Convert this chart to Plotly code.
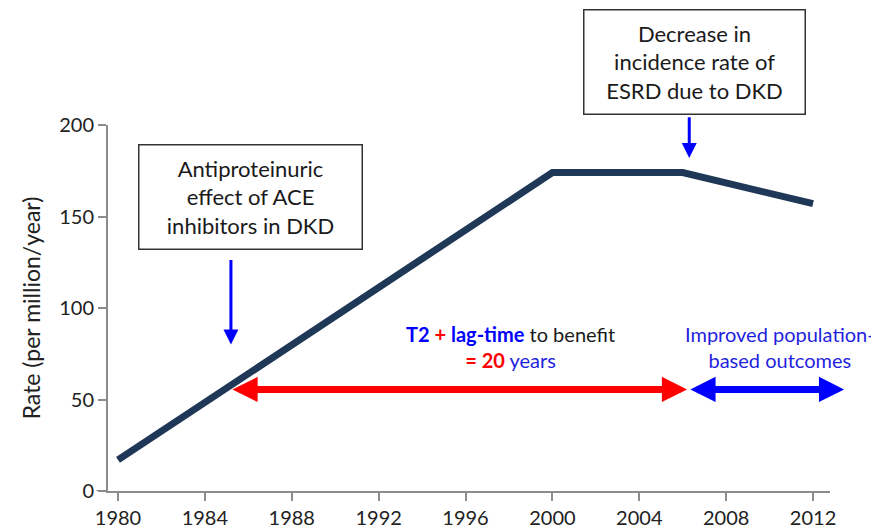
import plotly.graph_objects as go

# Data
years = [1980, 2000, 2006, 2012]
rate = [17, 174, 174, 157]
x_ticks = [1980, 1984, 1988, 1992, 1996, 2000, 2004, 2008, 2012]
y_ticks = [0, 50, 100, 150, 200]

# Event years / levels
ace_year = 1985.2
decrease_year = 2006.3
arrow_level = 55.5
outcome_end_year = 2013.5

FONT = "Lato"
BLUE = "#0000ff"
TEXT_BLUE = "#1f1fe0"
RED = "#ff0000"

fig = go.Figure()
fig.add_trace(go.Scatter(x=years, y=rate, mode="lines",
                         line=dict(color="#1f3857", width=7),
                         hoverinfo="skip", showlegend=False))

xr = [1979.54, 2012.78]
# the page has an 8px body margin, so the figure is 8px smaller and margins compensate
fig.update_layout(
    width=871, height=524,
    margin=dict(l=100, r=49, t=117, b=41),
    paper_bgcolor="white", plot_bgcolor="white",
    font=dict(family=FONT, size=20, color="#222222"),
    xaxis=dict(range=xr, tickvals=x_ticks, ticktext=[str(v) for v in x_ticks],
               showline=True, linecolor="#8c8c8c", linewidth=2, automargin=False,
               ticks="outside", ticklen=8, tickcolor="#8c8c8c", tickwidth=1.5,
               showgrid=False, zeroline=False, tickfont=dict(size=20, color="#222222")),
    yaxis=dict(range=[0, 200], tickvals=y_ticks, automargin=False,
               showline=True, linecolor="#8c8c8c", linewidth=2,
               ticks="outside", ticklen=8, tickcolor="#8c8c8c", tickwidth=1.5,
               showgrid=False, zeroline=False, tickfont=dict(size=20, color="#222222"),
               title=dict(text="Rate (per million/year)", font=dict(size=23, color="#222222"),
                          standoff=12)),
)

# small extension of x axis to the left of the y axis
fig.add_shape(type="line", xref="paper", yref="y", x0=-0.016, x1=0, y0=0, y1=0,
              line=dict(color="#8c8c8c", width=2))

# Boxes
fig.add_annotation(x=1986.08, y=160.4, xref="x", yref="y", showarrow=False,
                   xanchor="center", yanchor="middle",
                   text="Antiproteinuric<br>effect of ACE<br>inhibitors in DKD",
                   font=dict(family=FONT, size=22, color="#1a1a1a"),
                   width=220, height=101, bordercolor="#333333", borderwidth=1.5,
                   borderpad=1, bgcolor="white", align="center")
fig.add_annotation(x=2006.52, y=1.1708, xref="x", yref="paper", showarrow=False,
                   xanchor="center", yanchor="middle",
                   text="Decrease in<br>incidence rate of<br>ESRD due to DKD",
                   font=dict(family=FONT, size=22, color="#1a1a1a"),
                   width=218, height=101, bordercolor="#333333", borderwidth=1.5,
                   borderpad=1, bgcolor="white", align="center")

# Down arrows
fig.add_annotation(x=ace_year, y=80, xref="x", yref="y", axref="x", ayref="y",
                   ax=ace_year, ay=127, text="", showarrow=True,
                   arrowhead=2, arrowsize=1, arrowwidth=3, arrowcolor=BLUE)
fig.add_annotation(x=decrease_year, y=182, xref="x", yref="y", axref="x", ayref="y",
                   ax=decrease_year, ay=205, text="", showarrow=True,
                   arrowhead=2, arrowsize=1, arrowwidth=3, arrowcolor=BLUE)

# Horizontal double arrows
fig.add_annotation(x=decrease_year - 0.1, y=arrow_level, xref="x", yref="y", axref="x", ayref="y",
                   ax=ace_year, ay=arrow_level, text="", showarrow=True,
                   arrowside="end+start", arrowhead=2, startarrowhead=2,
                   arrowsize=0.72, startarrowsize=0.72, arrowwidth=7, arrowcolor=RED)
fig.add_annotation(x=decrease_year + 0.05, y=arrow_level, xref="x", yref="y", axref="x", ayref="y",
                   ax=outcome_end_year, ay=arrow_level, text="", showarrow=True,
                   arrowside="end+start", arrowhead=2, startarrowhead=2,
                   arrowsize=0.72, startarrowsize=0.72, arrowwidth=7, arrowcolor=BLUE)

# Texts
fig.add_annotation(x=1998.05, y=78.5, xref="x", yref="y", showarrow=False,
                   text=(f"<b><span style='color:{BLUE}'>T2</span> "
                         f"<span style='color:{RED}'>+</span> "
                         f"<span style='color:{BLUE}'>lag-time</span></b> to benefit<br>"
                         f"<b><span style='color:{RED}'>= 20</span></b> "
                         f"<span style='color:{TEXT_BLUE}'>years</span>"),
                   font=dict(family=FONT, size=20, color="#1a1a1a"), align="center")
fig.add_annotation(x=2010.46, y=78.5, xref="x", yref="y", showarrow=False,
                   text="Improved population-<br>based outcomes",
                   font=dict(family=FONT, size=20, color=TEXT_BLUE), align="center")

fig.write_html("out.html")
